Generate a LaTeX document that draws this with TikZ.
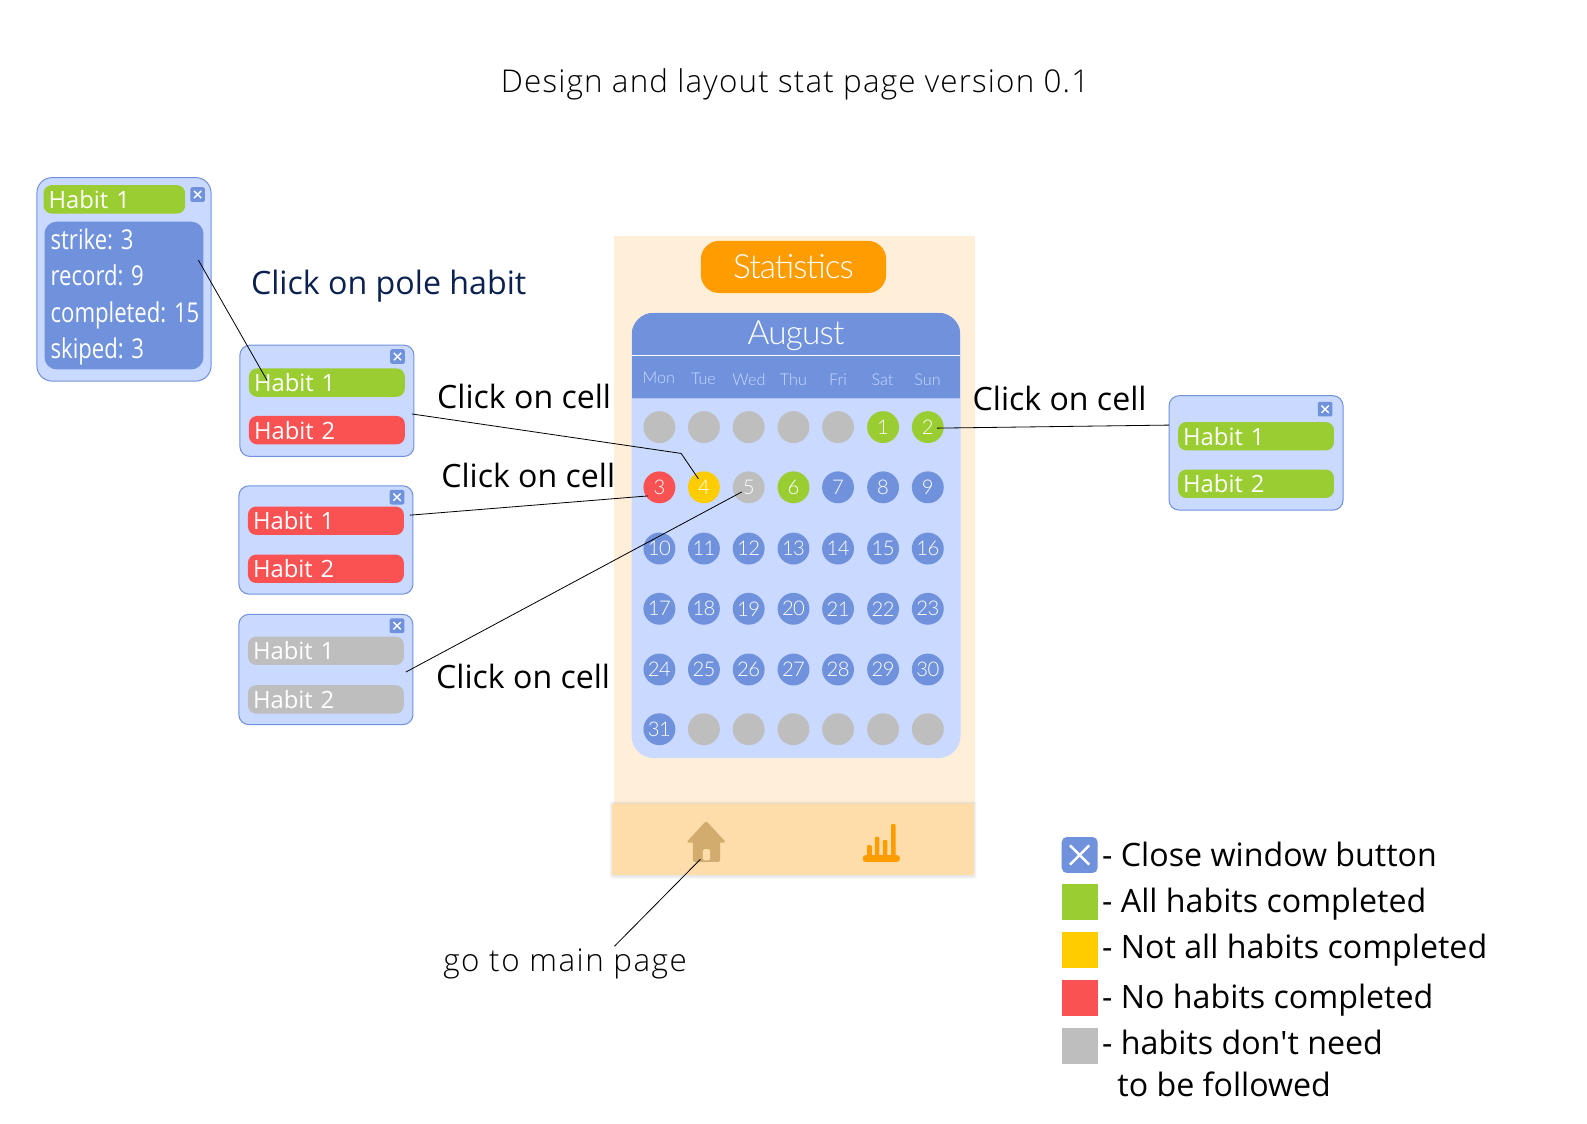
\documentclass[tikz,border=0pt]{standalone}
\usepackage{fontspec}
\setmainfont{Open Sans}
\newfontfamily\plainfont{Open Sans}
\newfontfamily\lightfont{Open Sans Light}
\newfontfamily\calfont{Lato Light}
\newfontfamily\condfont[FakeStretch=0.81]{Open Sans}
\definecolor{cpale}{HTML}{C9D9FF}
\definecolor{cblue}{HTML}{7092DC}
\definecolor{cgreen}{HTML}{9ACD32}
\definecolor{cred}{HTML}{FA5252}
\definecolor{cgrey}{HTML}{BEBEBE}
\definecolor{cyellow}{HTML}{FFCC00}
\definecolor{corange}{HTML}{FF9C00}
\definecolor{cpanel}{HTML}{FFEFD9}
\definecolor{cbar}{HTML}{FEDDAA}
\definecolor{chome}{HTML}{D2AC6E}
\definecolor{cnavy}{HTML}{0B2150}
\tikzset{
 px/.style={minimum width=0pt,minimum height=0pt,inner sep=0pt,outer sep=0pt},
 popup/.style={px,draw=cblue,fill=cpale,line width=1pt,rounded corners=10pt,anchor=north west,minimum width=#1},
 habitbar/.style={px,rounded corners=8pt,anchor=north west,minimum height=28pt,text=white,font=\fontsize{23.5}{28}\selectfont,align=left,text width=144pt,inner xsep=5pt,text depth=0pt},
 closebtn/.style={px,fill=cblue,rounded corners=2pt,minimum width=14.5pt,minimum height=14.5pt,anchor=north west},
 closex/.style={white,line width=1.4pt},
 cell/.style={px,circle,minimum size=31.5pt,text=white,font=\calfont\fontsize{20}{22}\selectfont},
 daylab/.style={px,text=cpale,font=\calfont\fontsize{16}{18}\selectfont},
 clicklab/.style={px,anchor=base west,text=black,font=\fontsize{31.7}{36}\selectfont},
 leglab/.style={px,anchor=base west,text=black,font=\fontsize{31.8}{36}\selectfont},
 legbox/.style={px,minimum size=35.5pt,anchor=north west},
 conn/.style={black,line width=0.8pt},
}
\newcommand{\closeat}[3]{% name, x, y
  \node[closebtn] (#1) at (#2,#3) {};
  \draw[closex] ([xshift=-3.6pt,yshift=-3.6pt]#1.center) -- ([xshift=3.6pt,yshift=3.6pt]#1.center);
  \draw[closex] ([xshift=-3.6pt,yshift=3.6pt]#1.center) -- ([xshift=3.6pt,yshift=-3.6pt]#1.center);
}
\begin{document}
\begin{tikzpicture}[x=1pt,y=-1pt]
\useasboundingbox (0,0) rectangle (1568,1109.6);
\fill[white] (0,0) rectangle (1568,1109.6);

\node[px,anchor=base,text=black,font=\lightfont\fontsize{31}{34}\selectfont] (title) at (785.5,91) {\addfontfeature{LetterSpace=3.7}Design and layout stat page version 0.1};

% phone panel
\node[px,fill=cpanel,anchor=north west,minimum width=356pt,minimum height=562pt] (panel) at (607,233) {};
\node[px,fill=corange,rounded corners=18pt,anchor=north west,minimum width=183pt,minimum height=51.5pt,text=white,font=\calfont\fontsize{33}{36}\selectfont] (stats) at (692.5,238) {\addfontfeature{LetterSpace=-3}Statistics};
% calendar
\node[px,fill=cpale,rounded corners=22pt,anchor=north west,minimum width=325pt,minimum height=440pt] (calendar) at (624,309) {};
\begin{scope}
 \clip[rounded corners=22pt] (624,309) rectangle (949,749);
 \fill[cblue] (624,309) rectangle (949,393);
 \draw[white,line width=1pt] (624,351) -- (949,351);
 \draw[cpale!70!cblue,line width=1pt] (624,393.5) -- (949,393.5);
\end{scope}
\node[px,anchor=base,text=white,font=\calfont\fontsize{33}{36}\selectfont] (month) at (786.5,340) {\addfontfeature{LetterSpace=-2.5}August};
\foreach \nm/\lab/\px/\py in {d1/Mon/651/373.5,d2/Tue/695/374.5,d3/Wed/740/375.5,d4/Thu/784/375,d5/Fri/828/375,d6/Sat/872/375,d7/Sun/916.5/375}
  \node[daylab] (\nm) at (\px,\py) {\lab};

% cells
\foreach \nm/\lab/\col/\cx/\cy in {
 e1//cgrey/651.5/422,e2//cgrey/695.5/422,e3//cgrey/739.7/422,e4//cgrey/784/422,e5//cgrey/828/422,c1/1/cgreen/872.5/422,c2/2/cgreen/916.7/422,
 c3/3/cred/651.5/481.5,c4/4/cyellow/695.5/481.5,c5/5/cgrey/739.7/481.5,c6/6/cgreen/784/481.5,c7/7/cblue/828/481.5,c8/8/cblue/872.5/481.5,c9/9/cblue/916.7/481.5,
 c10/10/cblue/651.5/542,c11/11/cblue/695.5/542,c12/12/cblue/739.7/542,c13/13/cblue/784/542,c14/14/cblue/828/542,c15/15/cblue/872.5/542,c16/16/cblue/916.7/542,
 c17/17/cblue/651.5/601.5,c18/18/cblue/695.5/601.5,c19/19/cblue/739.7/601.5,c20/20/cblue/784/601.5,c21/21/cblue/828/601.5,c22/22/cblue/872.5/601.5,c23/23/cblue/916.7/601.5,
 c24/24/cblue/651.5/661.5,c25/25/cblue/695.5/661.5,c26/26/cblue/739.7/661.5,c27/27/cblue/784/661.5,c28/28/cblue/828/661.5,c29/29/cblue/872.5/661.5,c30/30/cblue/916.7/661.5,
 c31/31/cblue/651.5/720.5,e6//cgrey/695.5/720.5,e7//cgrey/739.7/720.5,e8//cgrey/784/720.5,e9//cgrey/828/720.5,e10//cgrey/872.5/720.5,e11//cgrey/916.7/720.5}
  \node[cell,fill=\col] (\nm) at (\cx,\cy) {\addfontfeature{LetterSpace=-3}\lab};

% bottom bar with soft shadow
\foreach \g in {4,3,2,1}
  \fill[black,opacity=0.022,rounded corners=2pt] (605-\g*0.7,794.5-\g*0.7) rectangle (962+\g*0.7,865.5+\g*0.7);
\node[px,fill=cbar,anchor=north west,minimum width=357pt,minimum height=71pt] (tabbar) at (605,794) {};
% home icon
\fill[chome,rounded corners=1.5pt] (684.5,828) rectangle (711.5,851.5);
\fill[chome,rounded corners=2.5pt] (697.7,811) -- (717.5,832.5) -- (678,832.5) -- cycle;
\fill[cbar,rounded corners=2pt] (694.4,839) rectangle (701.6,850);
% chart icon
\fill[corange,rounded corners=2.5pt] (852.5,845) rectangle (889,851.5);
\fill[corange,rounded corners=1pt] (856.7,835) rectangle (861.4,847);
\fill[corange,rounded corners=1pt] (864.3,826.8) rectangle (868.9,847);
\fill[corange,rounded corners=1pt] (872.2,830) rectangle (876.8,847);
\fill[corange,rounded corners=1pt] (880.4,814.2) rectangle (885,847);

% detail popup
\node[popup=172pt,minimum height=201pt,rounded corners=15pt] (detail) at (36.5,175.5) {};
\node[habitbar,fill=cgreen,text width=130pt] (dh1) at (43,183) {Habit 1};
\closeat{dx}{188}{185}
\node[px,fill=cblue,rounded corners=12pt,anchor=north west,minimum width=157pt,minimum height=146pt] (dstats) at (44,219) {};
\foreach \nm/\txt/\ty in {s1/strike: 3/247,s2/record: 9/282.5,s3/completed: 15/318.5,s4/skiped: 3/354}
  \node[px,anchor=base west,text=white,font=\condfont\fontsize{27}{30}\selectfont] (\nm) at (50,\ty) {\txt};

% popups
\node[popup=172pt,minimum height=110pt] (boxa) at (237,341) {};
\closeat{ax}{385.5}{345}
\node[habitbar,fill=cgreen] (a1) at (246,364) {Habit 1};
\node[habitbar,fill=cred] (a2) at (246,411) {Habit 2};

\node[popup=172pt,minimum height=107pt] (boxb) at (236,480) {};
\closeat{bx}{385}{484}
\node[habitbar,fill=cred] (b1) at (245,500.5) {Habit 1};
\node[habitbar,fill=cred] (b2) at (245,548) {Habit 2};

\node[popup=172pt,minimum height=109pt] (boxc) at (236,607) {};
\closeat{cx}{385}{611}
\node[habitbar,fill=cgrey] (g1) at (245,629) {Habit 1};
\node[habitbar,fill=cgrey] (g2) at (245,677) {Habit 2};

\node[popup=172pt,minimum height=113pt] (boxd) at (1155,391) {};
\closeat{ddx}{1302}{397}
\node[habitbar,fill=cgreen] (h1) at (1164,417) {Habit 1};
\node[habitbar,fill=cgreen] (h2) at (1164,464) {Habit 2};

% labels
\node[px,anchor=base west,text=cnavy,font=\fontsize{31.8}{36}\selectfont] (pole) at (248,290.5) {Click on pole habit};
\node[clicklab] (l1) at (432,404) {Click on cell};
\node[clicklab] (l2) at (436,482) {Click on cell};
\node[clicklab] (l3) at (431,680) {Click on cell};
\node[clicklab] (l4) at (961,406) {Click on cell};
\node[px,anchor=base west,text=black,font=\lightfont\fontsize{31}{34}\selectfont] (mainp) at (438,960) {\addfontfeature{LetterSpace=4.8}go to main page};

% connectors
\coordinate (p1) at (196,257);
\coordinate (p2) at (264,376);
\coordinate (p3) at (407,409);
\coordinate (p3b) at (673,448);
\coordinate (p4) at (690,473);
\coordinate (p5) at (405,509);
\coordinate (p6) at (640,490);
\coordinate (p7) at (401,664);
\coordinate (p8) at (733,486);
\coordinate (p9) at (926,423);
\coordinate (p10) at (1155,420);
\coordinate (p11) at (692,849);
\coordinate (p12) at (607,935);
\draw[conn] (p1) -- (p2);
\draw[conn] (p3) -- (p3b) -- (p4);
\draw[conn] (p5) -- (p6);
\draw[conn] (p7) -- (p8);
\draw[conn] (p9) -- (p10);
\draw[conn] (p11) -- (p12);

% legend
\node[legbox,fill=cblue,rounded corners=5pt] (k1) at (1049,827) {};
\draw[white,line width=2.4pt] ([xshift=-9.5pt,yshift=-9.5pt]k1.center) -- ([xshift=9.5pt,yshift=9.5pt]k1.center);
\draw[white,line width=2.4pt] ([xshift=-9.5pt,yshift=9.5pt]k1.center) -- ([xshift=9.5pt,yshift=-9.5pt]k1.center);
\node[legbox,fill=cgreen] (k2) at (1049,873) {};
\node[legbox,fill=cyellow] (k3) at (1049,921) {};
\node[legbox,fill=cred] (k4) at (1049,968) {};
\node[legbox,fill=cgrey] (k5) at (1049,1016) {};
\node[leglab] (t1) at (1089,856) {- Close window button};
\node[leglab] (t2) at (1089,902) {- All habits completed};
\node[leglab] (t3) at (1089,947) {- Not all habits completed};
\node[leglab] (t4) at (1089,996) {- No habits completed};
\node[leglab] (t5) at (1089,1042) {- habits don{\plainfont'}t need};
\node[leglab] (t6) at (1104,1083) {to be followed};
\end{tikzpicture}
\end{document}
